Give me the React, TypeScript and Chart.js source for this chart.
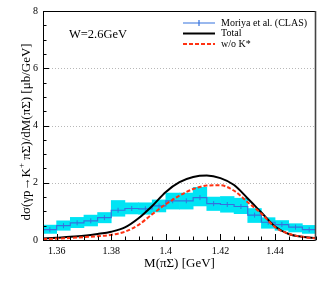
import { useEffect, useRef } from "react";
import { Chart, registerables } from "chart.js";

Chart.register(...registerables);

const FONT = "'Liberation Serif', 'Times New Roman', serif";

// CLAS data (Moriya et al.), bins of width 0.005 GeV
const binCenters = [
  1.3575, 1.3625, 1.3675, 1.3725, 1.3775, 1.3825, 1.3875, 1.3925, 1.3975, 1.4025,
  1.4075, 1.4125, 1.4175, 1.4225, 1.4275, 1.4325, 1.4375, 1.4425, 1.4475, 1.4525,
];
const binHalfWidth = 0.0025;
const clasValues = [
  0.36, 0.5, 0.6, 0.67, 0.78, 1.04, 1.1, 1.09, 1.19, 1.37,
  1.37, 1.48, 1.27, 1.24, 1.17, 0.87, 0.62, 0.54, 0.45, 0.36,
];
const bandHigh = [
  0.52, 0.67, 0.79, 0.87, 0.96, 1.38, 1.3, 1.3, 1.4, 1.64,
  1.64, 1.84, 1.5, 1.52, 1.46, 1.1, 0.78, 0.68, 0.57, 0.51,
];
const bandLow = [
  0.23, 0.34, 0.43, 0.49, 0.6, 0.83, 0.91, 0.9, 0.98, 1.08,
  1.08, 1.19, 1.03, 0.97, 0.92, 0.61, 0.41, 0.34, 0.28, 0.23,
];

// Model curves
const curveX = [
  1.355, 1.36, 1.365, 1.37, 1.375, 1.38, 1.385, 1.39, 1.395, 1.4, 1.405,
  1.41, 1.415, 1.42, 1.425, 1.43, 1.435, 1.44, 1.445, 1.45, 1.455,
];
const totalValues = [
  0.05, 0.08, 0.11, 0.15, 0.21, 0.29, 0.44, 0.76, 1.19, 1.68, 2.02,
  2.2, 2.25, 2.16, 1.92, 1.45, 0.96, 0.47, 0.21, 0.11, 0.07,
];
const noKstarValues = [
  0.03, 0.05, 0.07, 0.1, 0.13, 0.18, 0.29, 0.53, 0.9, 1.25, 1.55,
  1.78, 1.9, 1.91, 1.72, 1.32, 0.92, 0.45, 0.22, 0.11, 0.06,
];

const xTicks = [1.36, 1.38, 1.4, 1.42, 1.44];
const xTickLabels = ["1.36", "1.38", "1.4", "1.42", "1.44"];
const yTicks = [0, 2, 4, 6, 8];
const yTickLabels = ["0", "2", "4", "6", "8"];
const yGridValues = [2, 4, 6];
const xMinorStep = 0.005;
const yMinorStep = 0.5;

const legendLabels = ["Moriya et al. (CLAS)", "Total", "w/o K*"];
const annotation = "W=2.6GeV";
const xTitle = "M(πΣ) [GeV]";

const BLUE = "#3572de";
const CYAN = "#00e4f4";
const RED = "#ff3212";

const decorPlugin = {
  id: "decor",
  beforeDatasetsDraw(chart: any) {
    const { ctx, chartArea: a, scales } = chart;
    const y = scales.y;
    ctx.save();
    ctx.strokeStyle = "#b8b8b8";
    ctx.lineWidth = 1;
    ctx.setLineDash([1, 2]);
    for (const v of yGridValues) {
      const py = Math.round(y.getPixelForValue(v)) + 0.5;
      ctx.beginPath();
      ctx.moveTo(a.left, py);
      ctx.lineTo(a.right, py);
      ctx.stroke();
    }
    ctx.restore();
  },
  afterDraw(chart: any) {
    const { ctx, chartArea: a, scales } = chart;
    const x = scales.x;
    const y = scales.y;
    ctx.save();
    // frame
    ctx.strokeStyle = "#000";
    ctx.lineWidth = 1;
    ctx.beginPath();
    ctx.moveTo(a.left + 0.5, a.top + 0.5);
    ctx.lineTo(a.right, a.top + 0.5);
    ctx.moveTo(a.left + 0.5, a.top);
    ctx.lineTo(a.left + 0.5, a.bottom + 0.5);
    ctx.lineTo(a.right, a.bottom + 0.5);
    ctx.stroke();
    ctx.strokeStyle = "#444";
    ctx.lineWidth = 1.6;
    ctx.beginPath();
    ctx.moveTo(a.right - 0.5, a.top);
    ctx.lineTo(a.right - 0.5, a.bottom + 1);
    ctx.stroke();

    // ticks (inside)
    ctx.strokeStyle = "#000";
    ctx.lineWidth = 1;
    ctx.beginPath();
    for (let v = x.min; v <= x.max + 1e-9; v += xMinorStep) {
      const px = Math.round(x.getPixelForValue(v)) + 0.5;
      const major = xTicks.some((t) => Math.abs(t - v) < 1e-6);
      ctx.moveTo(px, a.bottom);
      ctx.lineTo(px, a.bottom - (major ? 6 : 3.5));
    }
    for (let v = y.min; v <= y.max + 1e-9; v += yMinorStep) {
      const py = Math.round(y.getPixelForValue(v)) + 0.5;
      const major = yTicks.some((t) => Math.abs(t - v) < 1e-6);
      ctx.moveTo(a.left, py);
      ctx.lineTo(a.left + (major ? 6 : 3.5), py);
    }
    ctx.stroke();

    // x title
    ctx.fillStyle = "#000";
    ctx.font = `13px ${FONT}`;
    ctx.textAlign = "center";
    ctx.textBaseline = "middle";
    ctx.fillText(xTitle, (a.left + a.right) / 2, 264);

    // y title (rotated) with superscript
    ctx.save();
    ctx.translate(27, 132);
    ctx.rotate(-Math.PI / 2);
    const parts: [string, number, number][] = [
      ["dσ(γp→K", 13, 0],
      ["+", 9, -5],
      [" πΣ)/dM(πΣ) [μb/GeV]", 13, 0],
    ];
    let total = 0;
    for (const [t, s] of parts) {
      ctx.font = `${s}px ${FONT}`;
      total += ctx.measureText(t).width;
    }
    let cx = -total / 2;
    ctx.textAlign = "left";
    ctx.textBaseline = "middle";
    for (const [t, s, dy] of parts) {
      ctx.font = `${s}px ${FONT}`;
      ctx.fillText(t, cx, dy);
      cx += ctx.measureText(t).width;
    }
    ctx.restore();

    // annotation
    ctx.font = `12.5px ${FONT}`;
    ctx.textAlign = "left";
    ctx.textBaseline = "middle";
    ctx.fillText(annotation, 69, 35);

    // legend
    const lx0 = 183;
    const lx1 = 215;
    const rows = [23, 33.5, 44];
    ctx.font = `10px ${FONT}`;
    // CLAS
    ctx.strokeStyle = BLUE;
    ctx.lineWidth = 1.2;
    ctx.beginPath();
    ctx.moveTo(lx0, rows[0]);
    ctx.lineTo(lx1, rows[0]);
    ctx.moveTo((lx0 + lx1) / 2, rows[0] - 3);
    ctx.lineTo((lx0 + lx1) / 2, rows[0] + 3);
    ctx.stroke();
    // Total
    ctx.strokeStyle = "#000";
    ctx.lineWidth = 2;
    ctx.beginPath();
    ctx.moveTo(lx0, rows[1]);
    ctx.lineTo(lx1, rows[1]);
    ctx.stroke();
    // w/o
    ctx.strokeStyle = RED;
    ctx.setLineDash([4, 2]);
    ctx.beginPath();
    ctx.moveTo(lx0, rows[2]);
    ctx.lineTo(lx1, rows[2]);
    ctx.stroke();
    ctx.setLineDash([]);
    ctx.fillStyle = "#000";
    legendLabels.forEach((l, i) => ctx.fillText(l, 221, rows[i]));
    ctx.restore();
  },
};

export default function App() {
  const ref = useRef<HTMLCanvasElement | null>(null);
  useEffect(() => {
    if (!ref.current) return;
    const edgesX = binCenters.map((c) => c - binHalfWidth);
    const stepData = edgesX.map((ex, i) => ({ x: ex, y: clasValues[i] }));
    stepData.push({
      x: binCenters[binCenters.length - 1] + binHalfWidth,
      y: clasValues[clasValues.length - 1],
    });
    const chart = new Chart(ref.current, {
      type: "line",
      data: {
        datasets: [
          {
            type: "bar",
            label: "band",
            data: binCenters.map((c, i) => ({ x: c, y: [bandLow[i], bandHigh[i]] })) as any,
            backgroundColor: CYAN,
            borderWidth: 0,
            barPercentage: 1,
            categoryPercentage: 1,
            order: 10,
          } as any,
          {
            type: "line",
            label: legendLabels[0],
            data: stepData,
            stepped: "before",
            borderColor: BLUE,
            borderWidth: 1.2,
            pointRadius: 0,
            fill: false,
            order: 5,
          } as any,
          {
            type: "line",
            label: "stat",
            data: binCenters.map((c, i) => ({ x: c, y: clasValues[i] })),
            showLine: false,
            pointStyle: "line",
            rotation: 90,
            pointRadius: 2.5,
            borderColor: BLUE,
            borderWidth: 1,
            order: 4,
          } as any,
          {
            type: "line",
            label: legendLabels[1],
            data: curveX.map((v, i) => ({ x: v, y: totalValues[i] })),
            borderColor: "#000",
            borderWidth: 2,
            pointRadius: 0,
            cubicInterpolationMode: "monotone",
            fill: false,
            order: 2,
          } as any,
          {
            type: "line",
            label: legendLabels[2],
            data: curveX.map((v, i) => ({ x: v, y: noKstarValues[i] })),
            borderColor: RED,
            borderWidth: 2,
            borderDash: [4, 2],
            pointRadius: 0,
            cubicInterpolationMode: "monotone",
            fill: false,
            order: 1,
          } as any,
        ],
      },
      options: {
        animation: false,
        responsive: false,
        devicePixelRatio: 1,
        layout: { padding: { top: 5, right: 11, left: 0, bottom: 0 } },
        plugins: { legend: { display: false }, tooltip: { enabled: false } },
        scales: {
          x: {
            type: "linear",
            min: 1.355,
            max: 1.455,
            offset: false,
            grid: { display: false, drawTicks: false },
            border: { display: false },
            afterBuildTicks: (s: any) => {
              s.ticks = xTicks.map((v) => ({ value: v }));
            },
            ticks: {
              callback: (_v: any, i: number) => xTickLabels[i],
              font: { family: FONT, size: 10 },
              color: "#000",
              padding: 5,
              maxRotation: 0,
              autoSkip: false,
            },
            afterFit: (s: any) => {
              s.height = 44;
            },
          },
          y: {
            type: "linear",
            min: 0,
            max: 8,
            grid: { display: false, drawTicks: false },
            border: { display: false },
            afterBuildTicks: (s: any) => {
              s.ticks = yTicks.map((v) => ({ value: v }));
            },
            ticks: {
              callback: (_v: any, i: number) => yTickLabels[i],
              font: { family: FONT, size: 10 },
              color: "#000",
              padding: 5,
              autoSkip: false,
            },
            afterFit: (s: any) => {
              s.width = 43;
            },
          },
        },
      } as any,
      plugins: [decorPlugin],
    });
    return () => chart.destroy();
  }, []);
  return (
    <div style={{ position: "absolute", left: 0, top: 0, width: 327, height: 284, background: "#fff" }}>
      <canvas ref={ref} width={327} height={284} style={{ display: "block" }} />
    </div>
  );
}
